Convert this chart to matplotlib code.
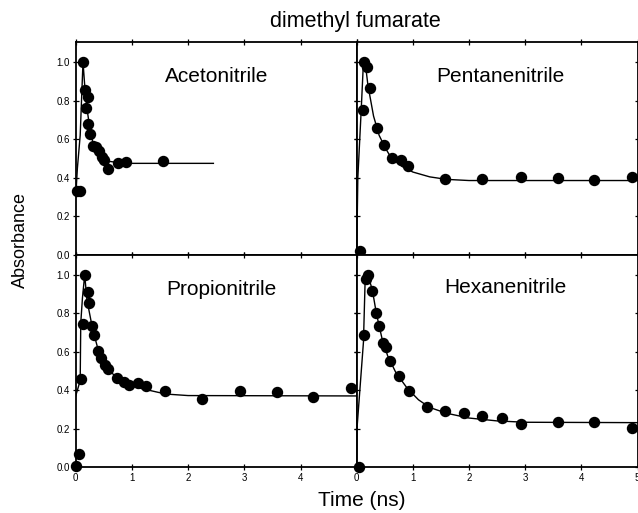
import matplotlib
matplotlib.use("Agg")
import matplotlib.pyplot as plt

plt.rcParams['font.family'] = ['Liberation Sans', 'DejaVu Sans']

title = "dimethyl fumarate"
xlabel = "Time (ns)"
ylabel = "Absorbance"
solvents = ["Acetonitrile", "Pentanenitrile", "Propionitrile", "Hexanenitrile"]

# --- data points (time ns, absorbance) ---
aceto_t = [0.02, 0.08, 0.135, 0.165, 0.225, 0.18, 0.225, 0.255, 0.30, 0.37, 0.42, 0.46, 0.50, 0.57, 0.76, 0.895, 1.55]
aceto_a = [0.33, 0.33, 1.00, 0.855, 0.82, 0.76, 0.68, 0.625, 0.567, 0.56, 0.537, 0.51, 0.49, 0.445, 0.476, 0.48, 0.485]
aceto_fit_t = [0.0, 0.03, 0.08, 0.11, 0.13, 0.16, 0.20, 0.25, 0.30, 0.40, 0.50, 0.60, 0.80, 1.00, 2.45]
aceto_fit_a = [0.30, 0.45, 0.62, 0.85, 1.00, 0.88, 0.76, 0.66, 0.59, 0.53, 0.50, 0.485, 0.478, 0.475, 0.475]

penta_t = [0.06, 0.105, 0.13, 0.18, 0.235, 0.37, 0.49, 0.635, 0.78, 0.91, 1.57, 2.24, 2.92, 3.58, 4.23, 4.90]
penta_a = [0.02, 0.75, 1.00, 0.975, 0.865, 0.66, 0.57, 0.505, 0.49, 0.46, 0.394, 0.394, 0.404, 0.40, 0.389, 0.404]
penta_fit_t = [0.0, 0.02, 0.08, 0.12, 0.15, 0.20, 0.30, 0.40, 0.50, 0.60, 0.80, 1.00, 1.30, 1.60, 2.00, 5.00]
penta_fit_a = [0.0, 0.40, 0.75, 1.00, 1.00, 0.88, 0.72, 0.62, 0.56, 0.51, 0.46, 0.43, 0.405, 0.392, 0.386, 0.386]

propio_t = [0.0, 0.06, 0.09, 0.125, 0.165, 0.21, 0.235, 0.285, 0.33, 0.39, 0.445, 0.52, 0.58, 0.73, 0.865, 0.955, 1.10, 1.25, 1.59, 2.24, 2.92, 3.58, 4.23, 4.90]
propio_a = [0.005, 0.07, 0.457, 0.745, 1.00, 0.91, 0.855, 0.735, 0.69, 0.605, 0.566, 0.53, 0.51, 0.465, 0.444, 0.427, 0.436, 0.424, 0.397, 0.354, 0.397, 0.39, 0.366, 0.413]
propio_fit_t = [0.0, 0.08, 0.09, 0.12, 0.16, 0.20, 0.30, 0.40, 0.50, 0.60, 0.80, 1.00, 1.30, 1.60, 2.00, 5.00]
propio_fit_a = [0.37, 0.45, 0.75, 0.88, 1.00, 0.87, 0.72, 0.61, 0.54, 0.50, 0.45, 0.42, 0.40, 0.38, 0.372, 0.37]

hexa_t = [0.04, 0.13, 0.165, 0.21, 0.28, 0.34, 0.40, 0.46, 0.53, 0.59, 0.76, 0.925, 1.26, 1.58, 1.91, 2.24, 2.58, 2.92, 3.58, 4.23, 4.90]
hexa_a = [0.0, 0.688, 0.977, 1.00, 0.918, 0.80, 0.734, 0.648, 0.627, 0.552, 0.474, 0.397, 0.314, 0.293, 0.28, 0.266, 0.257, 0.224, 0.236, 0.234, 0.205]
hexa_fit_t = [0.0, 0.01, 0.12, 0.15, 0.20, 0.28, 0.35, 0.45, 0.55, 0.70, 0.90, 1.10, 1.30, 1.60, 2.00, 2.50, 3.00, 5.00]
hexa_fit_a = [0.0, 0.22, 0.65, 0.97, 1.00, 0.92, 0.80, 0.67, 0.58, 0.49, 0.41, 0.35, 0.31, 0.28, 0.255, 0.24, 0.233, 0.231]

yticks = [0.0, 0.2, 0.4, 0.6, 0.8, 1.0]
ytick_labels = ["0.0", "0.2", "0.4", "0.6", "0.8", "1.0"]
xticks = [0, 1, 2, 3, 4, 5]
xtick_labels_left = ["0", "1", "2", "3", "4", ""]
xtick_labels_right = ["0", "1", "2", "3", "4", "5"]

W, H = 638, 513
fig = plt.figure(figsize=(W / 100, H / 100), dpi=100)

def fx(px):
    return px / W

def fy(py):
    return 1 - py / H

x_left, x_mid, x_right = 75.7, 356.7, 637.5
y_top, y_mid, y_bot = 42, 255, 467

boxes = [
    (x_left, y_top, x_mid, y_mid),
    (x_mid, y_top, x_right, y_mid),
    (x_left, y_mid, x_mid, y_bot),
    (x_mid, y_mid, x_right, y_bot),
]
datasets = [
    (aceto_t, aceto_a, aceto_fit_t, aceto_fit_a),
    (penta_t, penta_a, penta_fit_t, penta_fit_a),
    (propio_t, propio_a, propio_fit_t, propio_fit_a),
    (hexa_t, hexa_a, hexa_fit_t, hexa_fit_a),
]
label_pos = [(0.50, 0.84), (0.51, 0.84), (0.52, 0.835), (0.53, 0.845)]

axes = []
for i, ((x0, y0, x1, y1), (t, a, ft, fa)) in enumerate(zip(boxes, datasets)):
    ax = fig.add_axes([fx(x0), fy(y1), fx(x1) - fx(x0), fy(y0) - fy(y1)])
    ax.plot(ft, fa, color='black', lw=1.0, zorder=2)
    ax.plot(t, a, 'o', color='black', ms=7.2, zorder=3, clip_on=False)
    ax.set_xlim(0, 5)
    ax.set_ylim(0, 1.104)
    ax.set_xticks(xticks)
    ax.set_yticks(yticks)
    ax.tick_params(direction='inout', length=5, width=0.9, top=True, right=True,
                   labelsize=7, pad=1.5)
    if i in (0, 2):
        ax.set_yticklabels(ytick_labels)
    else:
        ax.set_yticklabels([])
    if i == 2:
        ax.set_xticklabels(xtick_labels_left)
    elif i == 3:
        ax.set_xticklabels(xtick_labels_right)
    else:
        ax.set_xticklabels([])
    for s in ax.spines.values():
        s.set_linewidth(1.3)
    ax.text(label_pos[i][0], label_pos[i][1], solvents[i], transform=ax.transAxes,
            ha='center', va='center', fontsize=15)
    axes.append(ax)

fig.text(fx(355), fy(22), title, ha='center', va='center', fontsize=15.5)
fig.text(fx(362), fy(500), xlabel, ha='center', va='center', fontsize=15)
fig.text(fx(20), fy(240), ylabel, ha='center', va='center', rotation=90, fontsize=13)

fig.savefig("out.png", dpi=100)
